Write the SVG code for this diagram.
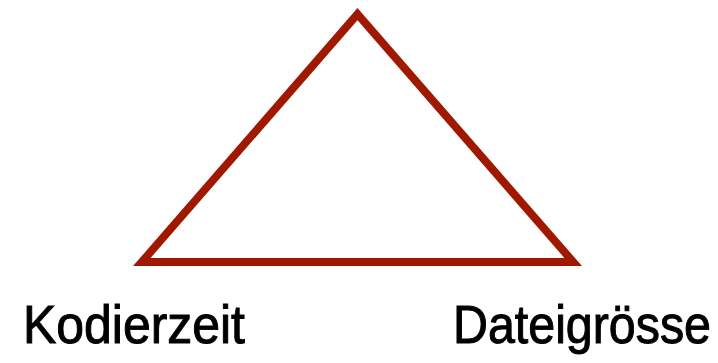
<svg xmlns="http://www.w3.org/2000/svg" width="718" height="363" viewBox="0 0 718 363">
<style>
.edge{fill:none;stroke:#a01800;stroke-width:8;stroke-linejoin:miter;stroke-miterlimit:10}
.lbl{font-family:"Liberation Sans",Arial,sans-serif;font-size:48px;fill:#000;stroke:#000;stroke-width:0.9}
</style>
<rect width="718" height="363" fill="#fff"/>
<g id="connectors">
<path class="edge" d="M357.5 14.1 L573.2 262 L141.8 262 Z"/>
</g>
<g id="node-kodierzeit" transform="translate(23,343) scale(1,1.1)">
<text class="lbl" x="0" y="0" textLength="222" lengthAdjust="spacingAndGlyphs">Kodierzeit</text>
</g>
<g id="node-dateigroesse" transform="translate(453,343) scale(1,1.1)">
<text class="lbl" x="0" y="0" textLength="258" lengthAdjust="spacingAndGlyphs">Dateigrösse</text>
</g>
</svg>
